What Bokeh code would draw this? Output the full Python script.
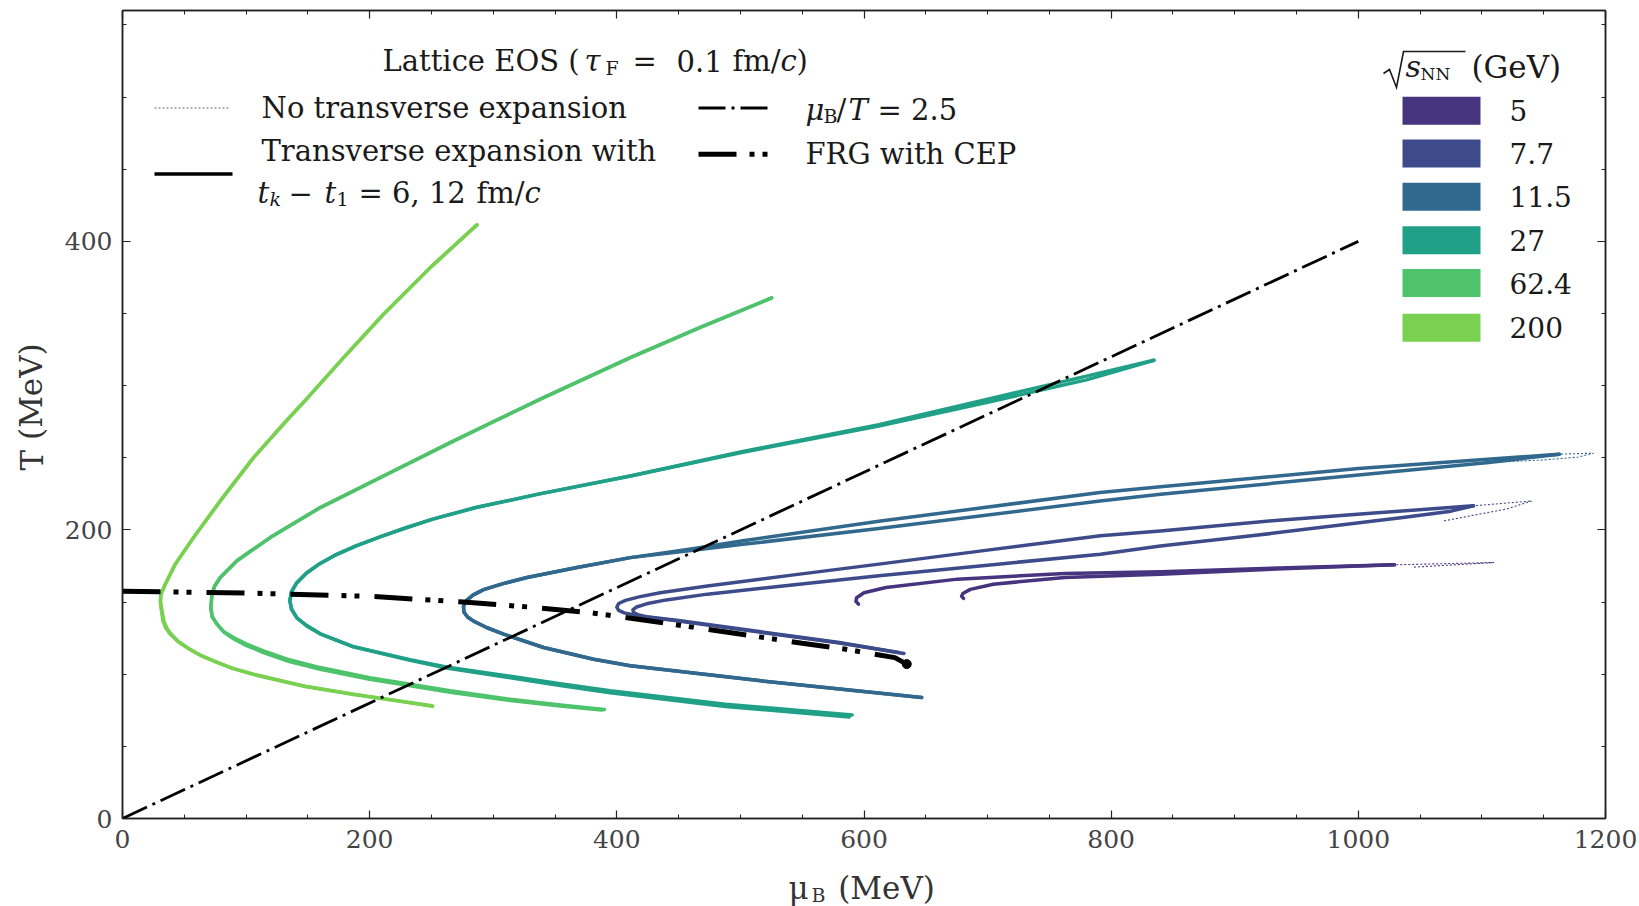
from bokeh.plotting import figure
from bokeh.models import Label, LinearAxis, SingleIntervalTicker, Range1d
from bokeh.embed import file_html
from bokeh.resources import INLINE

# ---------------- data (mu_B, T in MeV) ----------------
ENERGIES = ["5", "7.7", "11.5", "27", "62.4", "200"]
COLORS = ["#46347f", "#3e4b8a", "#31688e", "#20a087", "#4ec36b", "#7ad151"]

# sqrt(s_NN) = 5 GeV
MU_5_A = [1029.1, 950.0, 839.8, 762.4, 675.6, 617.8, 600.0, 594.0, 593.5, 595.5]
T_5_A = [175.8, 174.0, 171.0, 169.8, 165.9, 160.1, 156.5, 153.0, 150.5, 148.5]
MU_5_B = [1029.1, 950.0, 839.8, 762.4, 704.6, 686.0, 680.0, 679.0, 680.5]
T_5_B = [175.8, 173.5, 169.3, 167.0, 162.4, 158.8, 156.0, 154.0, 152.5]
MU_5_NT_EXT = [1045.0, 1109.8]
T_5_NT_EXT = [174.2, 177.4]

# 7.7 GeV
MU_77_A = [1093.1, 1010.0, 930.3, 839.8, 791.3, 700.0, 612.1, 540.0, 473.3, 435.0, 418.0,
           407.0, 401.5, 400.0, 401.5, 406.0, 418.0, 450.0, 516.7, 580.0, 632.3]
T_77_A = [216.7, 211.5, 206.3, 199.3, 195.9, 186.0, 176.3, 168.5, 161.2, 156.5, 153.6,
          151.2, 149.0, 146.5, 144.2, 142.5, 140.3, 136.8, 129.0, 121.6, 114.3]
MU_77_B = [1093.1, 1075.0, 1036.0, 913.6, 839.8, 791.3, 700.0, 612.1, 540.0, 473.3, 440.0,
           424.0, 416.0, 413.0, 413.5, 417.0, 424.0, 450.0, 516.7, 580.0, 628.0]
T_77_B = [216.7, 213.0, 208.6, 195.9, 188.9, 183.2, 175.6, 168.2, 161.6, 155.5, 151.5,
          148.8, 146.6, 144.6, 142.8, 141.3, 139.8, 137.2, 129.4, 122.0, 115.0]
MU_77_NT_EXT = [1069.4, 1120.0, 1140.3]
T_77_NT_EXT = [206.3, 214.5, 220.1]

# 11.5 GeV
MU_115_A = [1162.6, 1000.0, 840.0, 791.0, 612.0, 502.0, 460.0, 410.9, 367.8, 327.3, 308.0,
            292.2, 283.5, 278.3, 275.9, 276.3, 279.2, 284.1, 295.0, 308.4, 340.7, 381.2,
            410.9, 516.7, 646.7]
T_115_A = [252.5, 242.5, 230.0, 226.0, 206.0, 192.5, 186.8, 180.8, 173.9, 167.0, 162.8,
           158.6, 154.8, 151.0, 147.0, 143.0, 139.6, 136.8, 132.2, 127.8, 118.5, 110.4,
           105.8, 95.4, 83.8]
MU_115_B = [1162.6, 1105.5, 1000.0, 840.0, 791.0, 612.0, 502.0, 460.0, 410.9, 367.8, 327.3,
            308.0, 292.2, 283.5, 278.3, 275.9, 276.3, 279.2, 284.1, 295.0, 308.4, 340.7,
            381.2, 410.9, 516.7, 646.7]
T_115_B = [252.5, 246.7, 238.0, 224.8, 220.1, 201.0, 190.0, 185.8, 180.8, 173.9, 167.0,
           162.8, 158.6, 154.8, 151.0, 147.0, 143.0, 139.6, 136.8, 132.2, 127.8, 118.5,
           110.4, 105.8, 95.4, 83.8]
MU_115_NT_EXT = [1105.5, 1150.0, 1178.0, 1190.3]
T_115_NT_EXT = [246.7, 248.5, 250.5, 253.2]

# 27 GeV
MU_27_A = [834.6, 780.0, 700.0, 612.0, 500.0, 410.9, 336.5, 286.0, 251.0, 229.5, 209.5,
           189.0, 171.6, 158.5, 148.7, 140.7, 136.7, 135.4, 136.8, 141.1, 149.2, 160.0,
           187.0, 232.8, 262.0, 313.8, 354.2, 394.7, 487.8, 590.4]
T_27_A = [317.6, 306.6, 290.6, 273.0, 254.0, 237.4, 224.8, 215.5, 207.5, 201.5, 195.5,
          189.0, 182.3, 176.0, 170.0, 163.0, 157.0, 151.0, 145.0, 139.0, 133.5, 128.0,
          119.0, 110.0, 105.0, 98.6, 93.4, 88.5, 79.2, 71.8]
MU_27_B = [834.6, 780.0, 700.0, 612.0, 500.0, 410.9, 336.5, 286.0, 251.0, 229.5, 209.5,
           189.0, 171.6, 158.5, 148.7, 140.7, 136.7, 135.4, 136.8, 141.1, 149.2, 160.0,
           187.0, 232.8, 262.0, 313.8, 354.2, 394.7, 487.8, 588.0]
T_27_B = [317.6, 304.0, 288.5, 272.0, 253.5, 237.4, 224.8, 215.5, 207.5, 201.5, 195.5,
          189.0, 182.3, 176.0, 170.0, 163.0, 157.0, 151.0, 145.0, 139.0, 133.5, 128.0,
          119.0, 109.6, 104.3, 97.6, 92.2, 87.1, 77.6, 70.4]

# 62.4 GeV
MU_624_A = [525.3, 468.0, 410.9, 340.7, 300.0, 265.2, 214.0, 160.0, 119.5, 92.6, 79.1,
            74.5, 72.4, 71.5, 72.5, 76.4, 82.0, 89.8, 100.0, 114.1, 135.0, 160.0, 200.0,
            232.8, 265.2, 313.8, 354.2, 390.0]
T_624_A = [360.8, 340.5, 319.4, 291.7, 275.0, 260.5, 238.6, 215.5, 194.7, 178.6, 167.0,
           161.0, 155.5, 146.2, 140.0, 134.7, 129.5, 125.4, 121.0, 116.2, 110.0, 104.6,
           97.6, 93.1, 88.5, 82.6, 78.6, 75.5]
MU_624_B = [525.3, 468.0, 410.9, 340.7, 300.0, 265.2, 214.0, 160.0, 119.5, 92.6, 79.1,
            74.5, 72.4, 71.5, 72.5, 76.4, 82.0, 89.8, 100.0, 114.1, 135.0, 160.0, 200.0,
            232.8, 265.2, 313.8, 354.2, 388.0]
T_624_B = [360.8, 340.5, 319.4, 291.7, 275.0, 260.5, 238.6, 215.5, 194.7, 178.6, 167.0,
           161.0, 155.5, 146.2, 140.0, 134.7, 129.2, 124.6, 120.0, 115.0, 108.8, 103.4,
           96.5, 92.0, 87.5, 81.8, 78.0, 75.2]

# 200 GeV
MU_200_A = [286.8, 249.0, 211.2, 178.9, 149.2, 133.0, 106.0, 79.1, 57.5, 42.7, 34.6, 31.1,
            30.6, 31.1, 32.7, 35.0, 38.6, 44.5, 52.1, 62.0, 73.6, 88.0, 106.0, 146.5,
            187.0, 220.0, 250.4]
T_200_A = [411.4, 381.8, 349.5, 319.4, 291.0, 276.0, 250.1, 220.1, 194.7, 176.3, 162.4,
           155.5, 150.8, 146.2, 137.0, 132.0, 127.8, 122.8, 118.5, 113.5, 109.3, 104.4,
           100.0, 91.9, 86.2, 82.0, 78.1]
MU_200_B = [286.8, 249.0, 211.2, 178.9, 149.2, 133.0, 106.0, 79.1, 57.5, 42.7, 34.6, 31.1,
            30.8, 31.6, 33.6, 36.2, 40.0, 46.0, 53.6, 63.5, 75.0, 89.4, 107.4, 147.8,
            188.2, 221.0, 251.0]
T_200_B = [411.4, 381.8, 349.5, 319.4, 291.0, 276.0, 250.1, 220.1, 194.7, 176.3, 162.4,
           155.5, 150.6, 145.8, 136.5, 131.4, 127.1, 122.1, 117.8, 112.9, 108.7, 103.9,
           99.5, 91.5, 85.8, 81.7, 77.8]

# reference lines
MU_RATIO = [0.0, 1000.0]          # mu_B / T = 2.5
T_RATIO = [0.0, 400.0]
MU_FRG = [0.0, 100.0, 200.0, 276.0, 330.0, 380.0, 430.0, 498.0, 550.0, 584.0, 625.0, 634.6]
T_FRG = [157.5, 156.3, 154.0, 150.0, 146.5, 142.5, 136.5, 128.0, 121.5, 117.5, 111.5, 107.0]

X_MAX, Y_MAX = 1200, 560

CURVES = [
    (MU_5_A, T_5_A, MU_5_B, T_5_B, MU_5_NT_EXT + MU_5_A, T_5_NT_EXT + T_5_A),
    (MU_77_A, T_77_A, MU_77_B, T_77_B, MU_77_NT_EXT + MU_77_A, T_77_NT_EXT + T_77_A),
    (MU_115_A, T_115_A, MU_115_B, T_115_B, MU_115_NT_EXT + MU_115_A, T_115_NT_EXT + T_115_A),
    (MU_27_A, T_27_A, MU_27_B, T_27_B, MU_27_A, T_27_A),
    (MU_624_A, T_624_A, MU_624_B, T_624_B, MU_624_A, T_624_A),
    (MU_200_A, T_200_A, MU_200_B, T_200_B, MU_200_A, T_200_A),
]

# ---------------- layout ----------------
FL, FT, FW, FH = 122, 10, 1483, 808
FONT = "DejaVu Serif"

p = figure(frame_width=FW, frame_height=FH,
           x_range=Range1d(0, X_MAX), y_range=Range1d(0, Y_MAX),
           min_border_left=FL, min_border_top=FT, min_border_right=34, min_border_bottom=88,
           output_backend="svg", toolbar_location=None, tools="")
p.xgrid.visible = False
p.ygrid.visible = False
p.outline_line_color = "#222222"
p.outline_line_width = 1.5
p.background_fill_color = "white"
p.border_fill_color = "white"

bottom_ax = p.below[0]
left_ax = p.left[0]
bottom_ax.ticker = SingleIntervalTicker(interval=200, num_minor_ticks=4)
left_ax.ticker = SingleIntervalTicker(interval=200, num_minor_ticks=4)
top_ax = LinearAxis(ticker=SingleIntervalTicker(interval=200, num_minor_ticks=4))
right_ax = LinearAxis(ticker=SingleIntervalTicker(interval=200, num_minor_ticks=4))
p.add_layout(top_ax, "above")
p.add_layout(right_ax, "right")

for ax in [bottom_ax, left_ax, top_ax, right_ax]:
    ax.major_tick_in = 8
    ax.major_tick_out = 0
    ax.minor_tick_in = 4
    ax.minor_tick_out = 0
    ax.axis_line_color = "#222222"
    ax.axis_line_width = 1.5
    ax.major_tick_line_color = "#222222"
    ax.minor_tick_line_color = "#222222"
    ax.major_tick_line_width = 1.2
    ax.minor_tick_line_width = 1.0
    ax.major_label_text_font = FONT
    ax.major_label_text_font_size = "25px"
    ax.major_label_text_color = "#444444"
for ax in [top_ax, right_ax]:
    ax.major_label_text_color = None
    ax.major_label_text_font_size = "0px"
    ax.major_label_standoff = 0
bottom_ax.major_label_standoff = 11
left_ax.major_label_standoff = 10

# empirical shift between requested and rendered alphabetic baseline (px)
BASE_SHIFT = 10


def px_x(X):
    return (X - FL) * X_MAX / FW


def px_y(Y):
    return (FT + FH - Y) * Y_MAX / FH


def lab(X, Y, text, size, style="normal", color="#1a1a1a", align="left",
        baseline="alphabetic", angle=0.0, place=None):
    yy = Y - BASE_SHIFT if baseline == "alphabetic" else Y
    lbl = Label(x=px_x(X), y=px_y(yy), text=text, text_font=FONT,
                text_font_size=f"{size}px", text_font_style=style,
                text_color=color, text_align=align, text_baseline=baseline,
                angle=angle)
    if place is None:
        p.add_layout(lbl)
    else:
        p.add_layout(lbl, place)


# ---------------- curves ----------------
for (mua, ta, mub, tb, munt, tnt), col in zip(CURVES, COLORS):
    p.line(munt, tnt, line_color=col, line_width=1.1, line_dash="2 2")
    p.line(mua, ta, line_color=col, line_width=3.5, line_join="round", line_cap="round")
    p.line(mub, tb, line_color=col, line_width=3.5, line_join="round", line_cap="round")

RATIO_DASH = "27 6 3 6"
FRG_DASH = "38 13 5 8 5 15"
p.line(MU_RATIO, T_RATIO, line_color="black", line_width=2.8, line_dash=RATIO_DASH)
p.line(MU_FRG, T_FRG, line_color="black", line_width=5, line_dash=FRG_DASH)
p.scatter([MU_FRG[-1]], [T_FRG[-1]], size=9, color="black")

# ---------------- legend 1 (line styles) ----------------
S = 29
SUB = 19
lab(382, 70, "Lattice EOS (", S)
lab(584, 70, "τ", S, style="italic")
lab(605, 77, "F", SUB)
lab(632, 70, "=", S)
lab(676, 70, "0.1", S)
lab(732, 70, "fm/", S)
lab(780, 70, "c", S, style="italic")
lab(796, 70, ")", S)

p.line([px_x(154), px_x(228)], [px_y(107.5)] * 2, line_color="#666666",
       line_width=1.2, line_dash="2 2")
lab(261, 117, "No transverse expansion", S)

p.line([px_x(154), px_x(232)], [px_y(173.5)] * 2, line_color="black", line_width=3.5)
lab(261, 160, "Transverse expansion with", S)
lab(257, 202, "t", S, style="italic")
lab(269, 208, "k", SUB, style="italic")
lab(288, 202, "−", S)
lab(324, 202, "t", S, style="italic")
lab(336, 208, "1", SUB)
lab(358, 202, "= 6, 12", S)
lab(476, 202, "fm/", S)
lab(524, 202, "c", S, style="italic")

p.line([px_x(698), px_x(770)], [px_y(107.5)] * 2, line_color="black", line_width=2.8,
       line_dash=RATIO_DASH)
lab(805, 119, "μ", S, style="italic")
lab(823, 125, "B", SUB)
lab(836, 119, "/", S)
lab(848, 119, "T", S, style="italic")
lab(877, 119, "= 2.5", S)

p.line([px_x(698), px_x(770)], [px_y(153.7)] * 2, line_color="black", line_width=5,
       line_dash=FRG_DASH)
lab(805, 163, "FRG with CEP", S)

# ---------------- legend 2 (energies) ----------------
# radical sign with its bar
p.line([px_x(1383), px_x(1389), px_x(1396), px_x(1403), px_x(1465)],
       [px_y(73), px_y(69), px_y(87), px_y(51), px_y(51)],
       line_color="#1a1a1a", line_width=1.6, line_join="miter")
lab(1405, 76, "s", 30, style="italic")
lab(1420, 83, "NN", 17)
lab(1471, 76, "(GeV)", 31)

PATCH_CENTERS = [110.2, 153.0, 196.2, 239.7, 282.5, 327.2]
for e, col, yc in zip(ENERGIES, COLORS, PATCH_CENTERS):
    p.quad(left=px_x(1402), right=px_x(1480), top=px_y(yc - 14), bottom=px_y(yc + 14),
           fill_color=col, line_color=None)
    lab(1509, yc + 10, e, 28)

# ---------------- axis labels (side panels, so they are not clipped) ----------------
NB = "\u00a0"
lab(788, 897, "μ" + NB * 3 + "(MeV)", 31, color="#333333", place="below")
lab(811, 904, "B", 19, color="#333333", place="right")
lab(31, 470, "T (MeV)", 31, color="#333333", baseline="middle",
    angle=1.5708, place="left")

open("out.html", "w").write(file_html(p, INLINE))
